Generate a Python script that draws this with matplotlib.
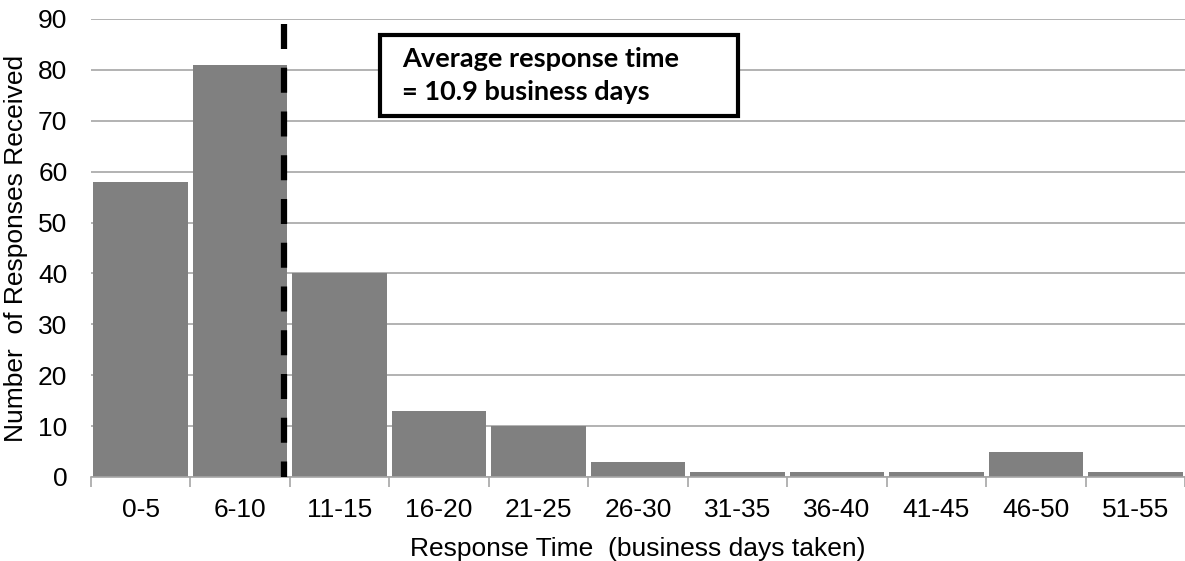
import numpy as np
import matplotlib
matplotlib.use("Agg")
import matplotlib.pyplot as plt
from matplotlib.patches import Rectangle

# Response time distribution
categories = ["0-5", "6-10", "11-15", "16-20", "21-25", "26-30",
              "31-35", "36-40", "41-45", "46-50", "51-55"]
counts = [58, 81, 40, 13, 10, 3, 1, 1, 1, 5, 1]
avg_pos = 1.445  # average 10.9 days, position on the category axis

plt.rcParams['font.family'] = ['Liberation Sans', 'DejaVu Sans']

fig = plt.figure(figsize=(11.85, 5.61), dpi=100)
ax = fig.add_axes([91 / 1185, 1 - 477 / 561, 1094 / 1185, 458 / 561])

x = np.arange(len(categories))
ax.bar(x, counts, width=0.95, color="#808080", zorder=2)

ax.set_xlim(-0.5, len(categories) - 0.5)
ax.set_ylim(0, 90)
ax.set_yticks(range(0, 91, 10))
ax.yaxis.grid(True, color="#a6a6a6", linewidth=1.2, zorder=0)
ax.set_axisbelow(True)

# ticks between categories, labels centred
ax.set_xticks(x)
ax.set_xticklabels(categories)
ax.set_xticks(np.arange(-0.5, len(categories), 1), minor=True)
ax.tick_params(axis="x", which="major", length=0, pad=15, labelsize=19)
ax.tick_params(axis="x", which="minor", length=7, color="#a6a6a6", width=1.2)
ax.tick_params(axis="y", length=0, pad=17, labelsize=19)

for s in ["top", "right", "left"]:
    ax.spines[s].set_visible(False)
ax.spines["bottom"].set_color("#a6a6a6")
ax.spines["bottom"].set_linewidth(1.2)

ax.set_xlabel("Response Time  (business days taken)", fontsize=19, labelpad=11)
ax.set_ylabel("Number  of Responses Received", fontsize=19, labelpad=7)

# average line
ax.plot([avg_pos, avg_pos], [89, 0], color="black", linewidth=4.5,
        linestyle=(0, (4.0, 3.0)), zorder=3)

ax.add_patch(Rectangle((2.406, 70.94), 3.6, 15.91, facecolor="white",
                       edgecolor="black", linewidth=3, zorder=4))
ax.text(2.627, 78.9, "Average response time\n= 10.9 business days",
        fontsize=19.5, fontweight="bold", family=["Lato", "DejaVu Sans"],
        va="center", ha="left", linespacing=1.45, zorder=5)

fig.savefig("out.png", dpi=100)
